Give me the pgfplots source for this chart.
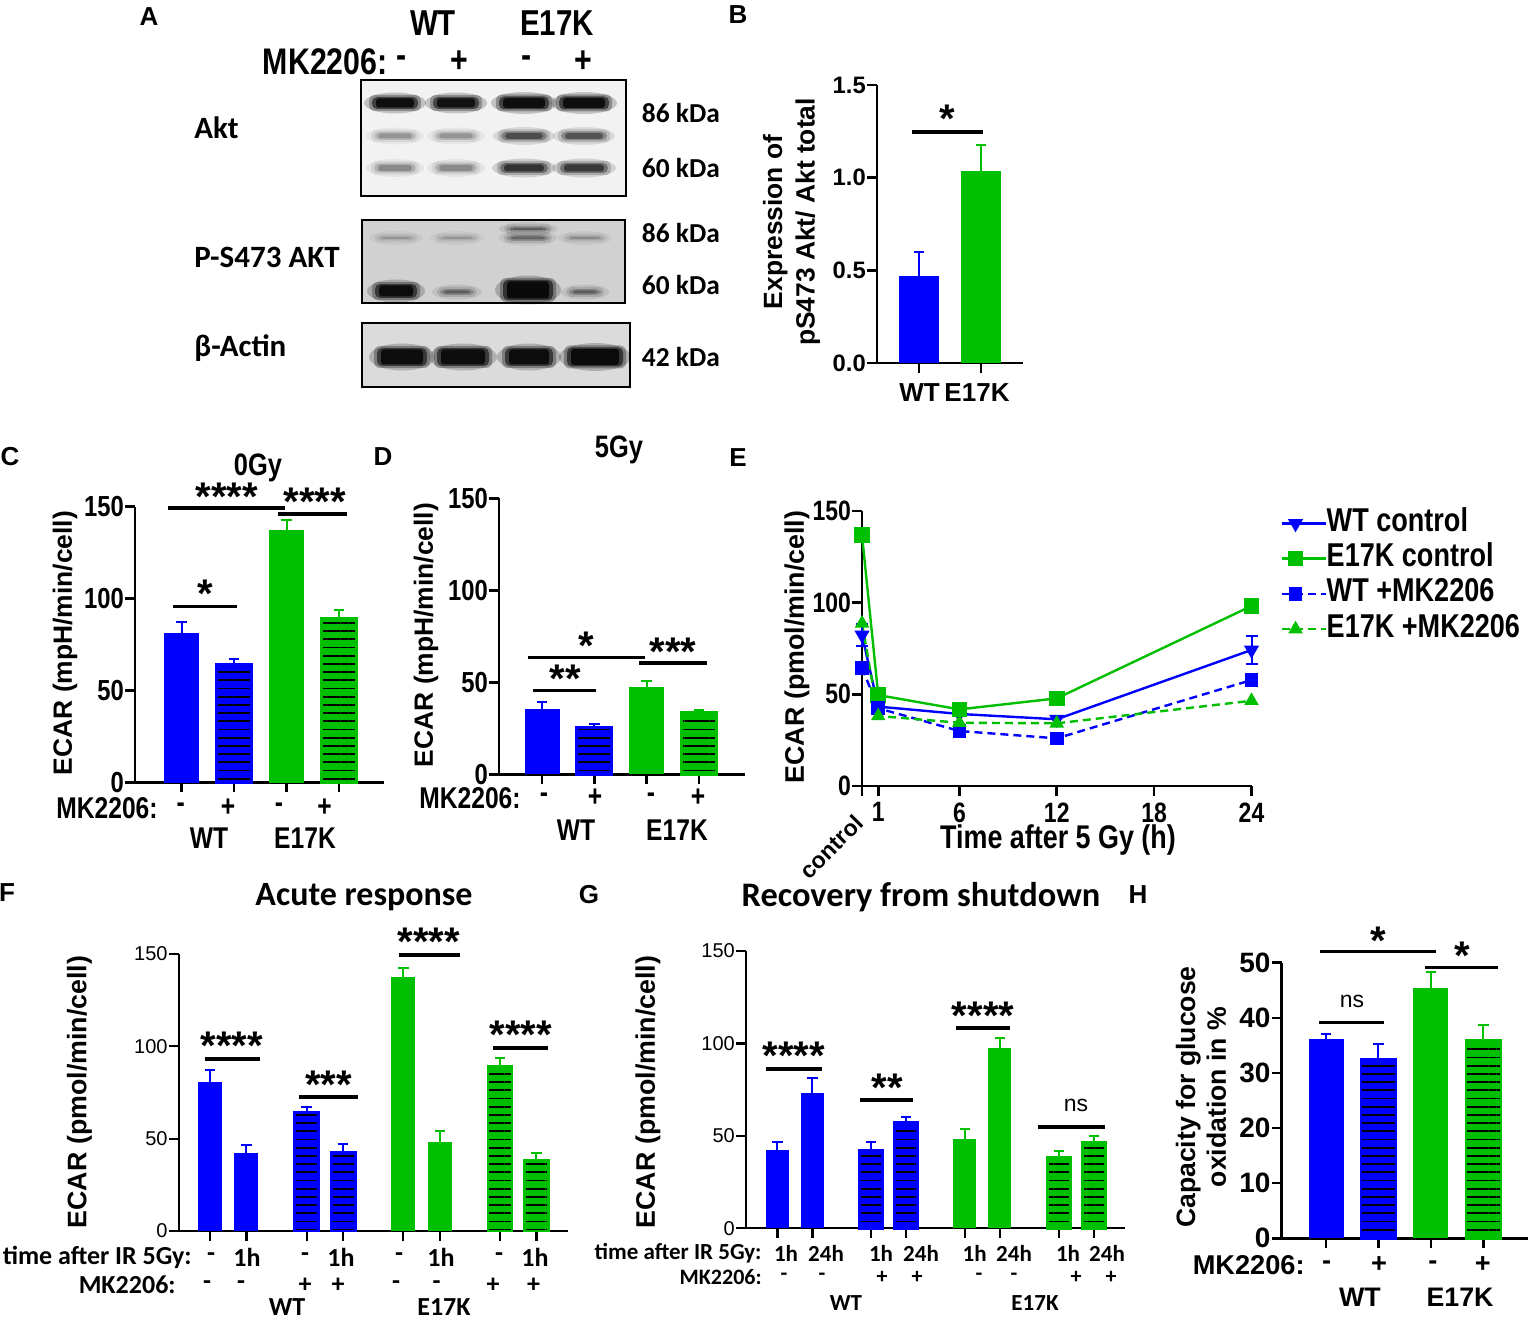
\documentclass[border=0pt]{standalone}
\usepackage{pgfplots}
\pgfplotsset{compat=1.18}
\usetikzlibrary{patterns.meta}
\usepackage{fontspec}
\setmainfont{Liberation Sans}
\newfontfamily\nar[FakeStretch=0.82]{Liberation Sans}
\newfontfamily\calf{Carlito}
\newcommand\fs[1]{\fontsize{#1}{#1}\selectfont}
\definecolor{gpb}{RGB}{0,0,255}
\definecolor{gpg}{RGB}{0,190,0}

\pgfplotsset{
  gp/.style={scale only axis, anchor=south west, clip=false,
    axis x line*=bottom, axis y line*=left,
    axis line style={line width=#1},
    every tick/.style={line width=#1, black},
    tick align=outside, major tick length=4.8pt,
    yticklabel style={inner xsep=0.6pt},
    /pgf/number format/assume math mode=true,
    ymin=0, xticklabels={}},
  gpbar/.style={ybar, bar shift=0pt, bar width=#1},
  eb/.style={error bars/.cd, y dir=plus, y explicit,
    error bar style={line width=1pt, draw=#1, solid},
    error mark options={rotate=90, mark size=2.6pt, line width=1pt, draw=#1}},
  sb/.style={fill=#1, draw=none, eb=#1},
}
% hatched bar: x, y, err, colour
\newcommand\hatbar[4]{%
  \addplot[fill=#4, draw=none, eb=#4] coordinates {(#1,#2) +- (0,#3)};
  \addplot[forget plot, draw=none, pattern={Lines[angle=0,distance=4.1pt,line width=0.9pt]}, pattern color=black] coordinates {(#1,#2)};
  \addplot[forget plot, draw=#4, fill=none, line width=1.4pt] coordinates {(#1,#2)};}

\newcommand\sig[3]{\draw[line width=1.7pt] (#1,#3) -- (#2,#3);}
\newcommand\st[3]{\node[inner sep=0, font=\bfseries\fs{20}] at (#1,{#2+8.6}) {#3};}

\begin{document}
\begin{tikzpicture}
\useasboundingbox (0,0) rectangle (764.5pt,-660pt);

% ---------------- B ----------------
\begin{axis}[gp=1.3pt, gpbar=20pt, at={(438.5pt,-181.5pt)}, width=73pt, height=139pt,
  xmin=-0.677, xmax=1.677, ymax=1.5, xtick={0,1}, ytick={0,0.5,1,1.5},
  yticklabel style={font=\bfseries\fs{11.9}, /pgf/number format/fixed, /pgf/number format/fixed zerofill, /pgf/number format/precision=1}]
\addplot[sb=gpb] coordinates {(0,0.47) +- (0,0.13)};
\addplot[sb=gpg] coordinates {(1,1.035) +- (0,0.14)};
\end{axis}

% ---------------- C ----------------
\begin{axis}[gp=1.3pt, gpbar=17.5pt, at={(67.5pt,-391.35pt)}, width=124.5pt, height=138pt,
  xmin=-0.886, xmax=3.857, ymax=150, xtick={0,1,2,3}, ytick={0,50,100,150},
  yticklabel style={font=\nar\bfseries\fs{14.5}}]
\addplot[sb=gpb] coordinates {(0,81.2) +- (0,6.0)};
\hatbar{1}{64.3}{2.7}{gpb}
\addplot[sb=gpg] coordinates {(2,137.3) +- (0,5.5)};
\hatbar{3}{89.3}{4.4}{gpg}
\end{axis}

% ---------------- D ----------------
\begin{axis}[gp=1.3pt, gpbar=17.5pt, at={(249.5pt,-387.15pt)}, width=123pt, height=138pt,
  xmin=-0.822, xmax=3.879, ymax=150, xtick={0,1,2,3}, ytick={0,50,100,150},
  yticklabel style={font=\nar\bfseries\fs{14.5}}]
\addplot[sb=gpb] coordinates {(0,35.3) +- (0,3.8)};
\hatbar{1}{25.3}{2.2}{gpb}
\addplot[sb=gpg] coordinates {(2,47.3) +- (0,3.4)};
\hatbar{3}{33.5}{1.4}{gpg}
\end{axis}

% ---------------- E ----------------
\begin{axis}[gp=1.3pt, at={(431pt,-393pt)}, width=194.75pt, height=137.5pt,
  xmin=0, xmax=24, ymax=150, xtick={0,1,6,12,18,24}, xticklabels={,1,6,12,18,24},
  ytick={0,50,100,150},
  ticklabel style={font=\nar\bfseries\fs{14}},
  legend style={at={(1.073,1.007)}, anchor=north west, draw=none, fill=none,
    font=\nar\bfseries\fs{16.5}, row sep=3.6pt, inner sep=0pt,
    nodes={inner sep=0pt, text height=11pt, text depth=3pt}},
  legend cell align=left,
  legend image code/.code={\draw[mark repeat=2,mark phase=2,#1] plot coordinates {(0pt,0pt) (7pt,0pt) (14pt,0pt)}; \path (0pt,0pt) -- (22pt,0pt);}]
\addplot[gpb, line width=1.2pt, mark=triangle*, mark size=3.2pt, mark options={rotate=180, solid}]
  coordinates {(0,82.4) (1,43.3) (6,39.3) (12,36.4) (24,74.2)};
\addlegendentry{WT control}
\addplot[gpg, line width=1.2pt, mark=square*, mark size=3.3pt, mark options={solid}]
  coordinates {(0,136.9) (1,49.6) (6,41.8) (12,47.8) (24,98.2)};
\addlegendentry{E17K control}
\addplot[gpb, line width=1.2pt, dash pattern=on 4pt off 2.5pt, mark=square*, mark size=2.8pt, mark options={solid}]
  coordinates {(0,64.5) (1,42.4) (6,30) (12,26) (24,57.8)};
\addlegendentry{WT +MK2206}
\addplot[gpg, line width=1.2pt, dash pattern=on 4pt off 2.5pt, mark=triangle*, mark size=3pt, mark options={solid}]
  coordinates {(0,88.7) (1,38.2) (6,34.5) (12,34.2) (24,46.5)};
\addlegendentry{E17K +MK2206}
\addplot[forget plot, draw=none, mark=none, error bars/.cd, y dir=both, y explicit,
  error bar style={draw=gpb, line width=1pt}, error mark options={draw=gpb, rotate=90, mark size=3pt, line width=1pt}]
  coordinates {(0,82.4) +- (0,6) (24,74.2) +- (0,7.5)};
\addplot[forget plot, draw=none, mark=none, error bars/.cd, y dir=both, y explicit,
  error bar style={draw=gpg, line width=1pt}, error mark options={draw=gpg, rotate=90, mark size=3pt, line width=1pt}]
  coordinates {(0,136.9) +- (0,4) (24,98.2) +- (0,3.5)};
\end{axis}

% ---------------- F ----------------
\begin{axis}[gp=1.1pt, gpbar=12pt, at={(89.35pt,-615.5pt)}, width=194.65pt, height=138.5pt,
  xmin=-0.858, xmax=9.814, ymax=150, xtick={0,1,2.65,3.65,5.3,6.3,7.95,8.95}, ytick={0,50,100,150},
  yticklabel style={font=\fs{10}}]
\addplot[sb=gpb] coordinates {(0,80.9) +- (0,6.1)};
\addplot[sb=gpb] coordinates {(1,42.4) +- (0,4.0)};
\hatbar{2.65}{64.3}{2.7}{gpb}
\hatbar{3.65}{42.4}{4.7}{gpb}
\addplot[sb=gpg] coordinates {(5.3,137.4) +- (0,5.2)};
\addplot[sb=gpg] coordinates {(6.3,48.4) +- (0,5.6)};
\hatbar{7.95}{89.4}{4.3}{gpg}
\hatbar{8.95}{38.1}{4.0}{gpg}
\end{axis}

% ---------------- G ----------------
\begin{axis}[gp=1.1pt, gpbar=11.5pt, at={(373pt,-614.15pt)}, width=189.3pt, height=138.65pt,
  xmin=-0.897, xmax=9.91, ymax=150, xtick={0,1,2.67,3.67,5.35,6.35,8.03,9.04}, ytick={0,50,100,150},
  yticklabel style={font=\fs{10}}]
\addplot[sb=gpb] coordinates {(0,42.4) +- (0,4.1)};
\addplot[sb=gpb] coordinates {(1,73.4) +- (0,8.1)};
\hatbar{2.67}{42.4}{4.5}{gpb}
\hatbar{3.67}{57.1}{3.1}{gpb}
\addplot[sb=gpg] coordinates {(5.35,48.1) +- (0,5.6)};
\addplot[sb=gpg] coordinates {(6.35,97.3) +- (0,5.5)};
\hatbar{8.03}{38.2}{3.6}{gpg}
\hatbar{9.04}{46.3}{3.6}{gpg}
\end{axis}

% ---------------- H ----------------
\begin{axis}[gp=1.3pt, gpbar=17.5pt, at={(640.85pt,-619.15pt)}, width=123.15pt, height=137.8pt,
  xmin=-0.844, xmax=3.85, ymax=50, xtick={0,1,2,3}, ytick={0,10,20,30,40,50},
  yticklabel style={font=\bfseries\fs{14}}]
\addplot[sb=gpb] coordinates {(0,36.2) +- (0,0.8)};
\hatbar{1}{32.5}{2.7}{gpb}
\addplot[sb=gpg] coordinates {(2,45.5) +- (0,2.8)};
\hatbar{3}{35.9}{2.8}{gpg}
\end{axis}

\begin{scope}[x=0.5pt, y=-0.5pt]
% panel letters
\foreach \l/\x/\y in {A/149/17, B/738/15, C/10/457, D/383/457, E/738/458, F/7/893, G/589/895, H/1138/895}
  \node[font=\bfseries\fs{13}, inner sep=0] at (\x,\y) {\l};

% ---------------- A (blot) ----------------
\newcommand\band[5]{%
 \fill[black,opacity=0.14*#5] (#1,#2) ellipse [x radius={#3+7}, y radius={#4+4.5}];
 \fill[black,opacity=0.2*#5,rounded corners=3pt] ({#1-#3-2},{#2-#4-2}) rectangle ({#1+#3+2},{#2+#4+2});
 \fill[black,opacity=0.38*#5,rounded corners=2.5pt] ({#1-#3+1},{#2-#4}) rectangle ({#1+#3-1},{#2+#4});
 \fill[black,opacity=0.55*#5,rounded corners=1.5pt] ({#1-#3+5},{#2-#4+1.5}) rectangle ({#1+#3-5},{#2+#4-1.5});}
\fill[black!5] (361,80) rectangle (626,196);
\band{395}{103}{24}{6}{1.4}\band{456}{103}{24}{6}{1.35}\band{524}{103}{26}{6.5}{1.4}\band{584}{103}{26}{6.5}{1.4}
\band{395}{136}{22}{4}{0.35}\band{456}{136}{22}{4}{0.35}\band{524}{136}{24}{4.5}{0.75}\band{584}{136}{24}{4.5}{0.7}
\band{395}{168}{22}{4.5}{0.4}\band{456}{168}{22}{4.5}{0.4}\band{524}{168}{25}{5}{0.95}\band{584}{168}{25}{5}{0.9}
\draw[line width=0.8pt] (361,80) rectangle (626,196);
\fill[black!18] (362,220) rectangle (625,303);
\band{396}{238}{20}{2.5}{0.25}\band{457}{238}{20}{2.5}{0.25}\band{528}{238}{22}{3}{0.5}\band{585}{238}{20}{2.5}{0.3}
\band{528}{229}{22}{2.5}{0.55}
\band{396}{291}{22}{7}{1.4}\band{457}{292}{18}{3}{0.55}\band{528}{290}{26}{10}{1.45}\band{585}{292}{17}{3}{0.55}
\draw[line width=0.8pt] (362,220) rectangle (625,303);
\fill[black!14] (362,323) rectangle (630,387);
\band{402}{357}{26}{9}{1.4}\band{463}{357}{27}{9}{1.4}\band{529}{357}{25}{9}{1.4}\band{595}{357}{29}{9.5}{1.45}
\draw[line width=0.8pt] (362,323) rectangle (630,387);

\node[font=\nar\bfseries\fs{18}] at (433,23) {WT};
\node[font=\nar\bfseries\fs{18}] at (557,23) {E17K};
\node[font=\nar\bfseries\fs{18.5}, anchor=east, inner sep=0] at (388,62) {MK2206:};
\foreach \x/\s in {402/-,459.5/+,527/-,583/+} \node[font=\nar\bfseries\fs{18.5}] at (\x,62) {\s};
\node[font=\calf\bfseries\fs{15.5}, anchor=west, inner sep=0] at (194,128) {Akt};
\node[font=\calf\bfseries\fs{15.5}, anchor=west, inner sep=0] at (194,257) {P-S473 AKT};
\node[font=\calf\bfseries\fs{15.5}, anchor=west, inner sep=0] at (194,348) {β-Actin};
\foreach \y/\t in {113/86, 168/60, 233/86, 285/60, 357/42}
  \node[font=\calf\bfseries\fs{13.7}, anchor=west, inner sep=0] at (641.5,\y) {\t{} kDa};

% ---------------- B labels ----------------
\node[rotate=90, font=\bfseries\fs{13.2}, align=center] at (791.5,222) {Expression of\\[3pt]pS473 Akt/ Akt total};
\node[font=\bfseries\fs{13}] at (919.5,393) {WT};
\node[font=\bfseries\fs{13}] at (977,393) {E17K};
\sig{912}{983}{132}\st{947.5}{110}{*}

% ---------------- C labels ----------------
\node[rotate=90, font=\bfseries\fs{13.2}] at (65,643) {ECAR (mpH/min/cell)};
\node[font=\nar\bfseries\fs{15}, anchor=east, inner sep=0] at (158,808) {MK2206:};
\foreach \x/\s in {180.6/-,228/+,279/-,324.5/+} \node[font=\nar\bfseries\fs{15}] at (\x,808) {\s};
\node[font=\nar\bfseries\fs{15}] at (209,838) {WT};
\node[font=\nar\bfseries\fs{15}] at (305,838) {E17K};
\node[font=\nar\bfseries\fs{15.5}] at (258,468) {0Gy};
\sig{173}{237}{606.7}\st{205}{585}{*}
\sig{167.6}{285}{508}\st{227}{488}{****}
\sig{278}{347}{514}\st{315}{493}{****}

% ---------------- D labels ----------------
\node[rotate=90, font=\bfseries\fs{13.2}] at (426,635) {ECAR (mpH/min/cell)};
\node[font=\nar\bfseries\fs{15}, anchor=east, inner sep=0] at (521,798) {MK2206:};
\foreach \x/\s in {544/-,595/+,651/-,698/+} \node[font=\nar\bfseries\fs{15}] at (\x,798) {\s};
\node[font=\nar\bfseries\fs{15}] at (576,830) {WT};
\node[font=\nar\bfseries\fs{15}] at (677,830) {E17K};
\node[font=\nar\bfseries\fs{15.5}] at (619,450) {5Gy};
\sig{527.5}{645}{657.7}\st{586}{637}{*}
\sig{533}{596}{690.7}\st{565}{670}{**}
\sig{639}{707}{663}\st{673}{643}{***}

% ---------------- E labels ----------------
\node[rotate=90, font=\bfseries\fs{13.4}] at (797,647) {ECAR (pmol/min/cell)};
\node[font=\nar\bfseries\fs{16.4}] at (1058,840) {Time after 5 Gy (h)};
\node[rotate=45, anchor=east, font=\bfseries\fs{11.5}, inner sep=0] at (859,819) {control};

% ---------------- F labels ----------------
\node[font=\calf\bfseries\fs{17}] at (364,897) {Acute response};
\node[rotate=90, font=\bfseries\fs{13.4}] at (79.5,1092) {ECAR (pmol/min/cell)};
\node[font=\calf\bfseries\fs{13}, anchor=east, inner sep=0] at (192,1257) {time after IR 5Gy:};
\foreach \x/\s in {211/-,247/1h,305/-,341/1h,399/-,441/1h,499/-,535/1h} \node[font=\calf\bfseries\fs{13}] at (\x,1257) {\s};
\node[font=\calf\bfseries\fs{13}, anchor=east, inner sep=0] at (176,1285) {MK2206:};
\foreach \x/\s in {207/-,241/-,305/+,338/+,396/-,436.5/-,493/+,533.5/+} \node[font=\calf\bfseries\fs{13}] at (\x,1285) {\s};
\node[font=\calf\bfseries\fs{13}] at (287,1307) {WT};
\node[font=\calf\bfseries\fs{13}] at (444,1307) {E17K};
\sig{204.6}{260}{1059}\st{232}{1037}{****}
\sig{299}{358}{1097}\st{328.5}{1076}{***}
\sig{399}{459.5}{955}\st{429}{933}{****}
\sig{493}{547.5}{1048}\st{521}{1026}{****}

% ---------------- G labels ----------------
\node[font=\calf\bfseries\fs{17.2}] at (921,897) {Recovery from shutdown};
\node[rotate=90, font=\bfseries\fs{13.4}] at (648,1092) {ECAR (pmol/min/cell)};
\node[font=\calf\bfseries\fs{11.5}, anchor=east, inner sep=0] at (762,1253) {time after IR 5Gy:};
\foreach \x/\s in {786/1h,826/24h,881/1h,921/24h,974.6/1h,1014/24h,1068/1h,1107/24h} \node[font=\calf\bfseries\fs{11.5}] at (\x,1253) {\s};
\node[font=\calf\bfseries\fs{11}, anchor=east, inner sep=0] at (762,1277) {MK2206:};
\foreach \x/\s in {784/-,822/-,882/+,917/+,979/-,1014/-,1076/+,1111/+} \node[font=\calf\bfseries\fs{11}] at (\x,1277) {\s};
\node[font=\calf\bfseries\fs{11.5}] at (846,1303) {WT};
\node[font=\calf\bfseries\fs{11.5}] at (1035,1303) {E17K};
\sig{766}{822}{1069}\st{793.6}{1047}{****}
\sig{860}{913}{1100}\st{887}{1079}{**}
\sig{956}{1010}{1028}\st{983}{1007}{****}
\sig{1038}{1105}{1127}\node[font=\fs{11.5}] at (1076,1105) {ns};

% ---------------- H labels ----------------
\node[rotate=90, font=\bfseries\fs{13.3}, align=center] at (1201,1097) {Capacity for glucose\\[2pt]oxidation in \%};
\node[font=\bfseries\fs{13.6}, anchor=east, inner sep=0] at (1305,1265) {MK2206:};
\foreach \x/\s in {1326.7/-,1379/+,1433/-,1482.7/+} \node[font=\bfseries\fs{13.6}] at (\x,1265) {\s};
\node[font=\bfseries\fs{13.4}] at (1360,1297) {WT};
\node[font=\bfseries\fs{13.4}] at (1460,1297) {E17K};
\sig{1320}{1436}{951.7}\st{1378}{932}{*}
\sig{1425}{1498}{967.7}\st{1462}{947}{*}
\sig{1319}{1384}{1022.7}\node[font=\fs{11.5}] at (1352,1001.7) {ns};
\end{scope}
\end{tikzpicture}
\end{document}
